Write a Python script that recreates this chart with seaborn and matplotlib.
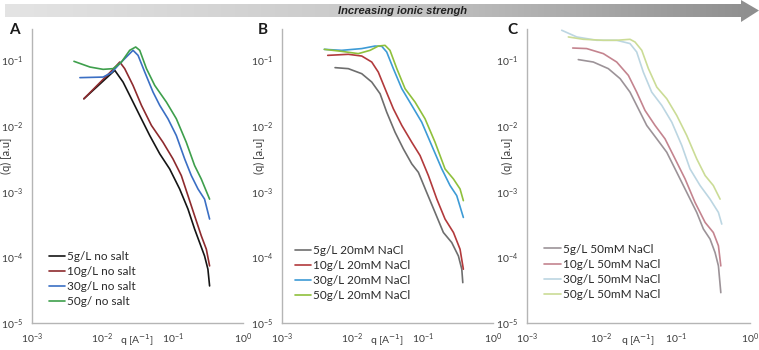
import numpy as np
import pandas as pd
import seaborn as sns
import matplotlib.pyplot as plt
from matplotlib.colors import LinearSegmentedColormap
from matplotlib.patches import Polygon

sns.set_style("white")
plt.rcParams['font.family'] = ['Lato', 'DejaVu Sans']
plt.rcParams['xtick.direction'] = 'in'
plt.rcParams['ytick.direction'] = 'in'

# ---- panel A : no salt
qA_5 = [0.00547, 0.01503, 0.0197, 0.0259, 0.0340, 0.0472, 0.0655, 0.0906, 0.1256, 0.165, 0.205, 0.2415, 0.284, 0.317, 0.335]
IA_5 = [0.0260, 0.0704, 0.0467, 0.0260, 0.01445, 0.00716, 0.00377, 0.00222, 0.00110, 0.000544, 0.000270, 0.000168, 0.000105, 6.6e-5, 3.67e-5]
qA_10 = [0.00547, 0.01422, 0.0177, 0.0208, 0.0273, 0.0360, 0.0499, 0.0728, 0.1009, 0.1327, 0.165, 0.205, 0.255, 0.301, 0.335]
IA_10 = [0.0260, 0.0729, 0.0942, 0.0747, 0.0415, 0.0206, 0.0102, 0.00566, 0.00316, 0.00176, 0.00087, 0.000430, 0.000213, 0.000133, 7.41e-5]
qA_30 = [0.00480, 0.01026, 0.01349, 0.0177, 0.0245, 0.0273, 0.0322, 0.0401, 0.0526, 0.0655, 0.0857, 0.1127, 0.148, 0.184, 0.229, 0.284, 0.335]
IA_30 = [0.0545, 0.0556, 0.0649, 0.0891, 0.1265, 0.1422, 0.1191, 0.0662, 0.0328, 0.0206, 0.0129, 0.00716, 0.00316, 0.00176, 0.00110, 0.00077, 0.000383]
qA_50 = [0.00395, 0.00666, 0.01026, 0.01422, 0.0187, 0.0245, 0.0298, 0.0340, 0.0424, 0.0556, 0.0815, 0.1127, 0.156, 0.205, 0.255, 0.335]
IA_50 = [0.0966, 0.0791, 0.0729, 0.0747, 0.0942, 0.1422, 0.1596, 0.1422, 0.0747, 0.0415, 0.0231, 0.0129, 0.00566, 0.00250, 0.00156, 0.00077]

# ---- panel B : 20mM NaCl
qB_5 = [0.00568, 0.00877, 0.01361, 0.01888, 0.0248, 0.0308, 0.0405, 0.0531, 0.0700, 0.0869, 0.114, 0.150, 0.197, 0.259, 0.322, 0.360, 0.372]
IB_5 = [0.0774, 0.0747, 0.0626, 0.0467, 0.0310, 0.01626, 0.00804, 0.00449, 0.00265, 0.00197, 0.000975, 0.000483, 0.000239, 0.000168, 0.000105, 6.6e-5, 4.12e-5]
qB_10 = [0.00447, 0.00877, 0.01361, 0.01888, 0.0234, 0.0292, 0.0383, 0.0505, 0.0700, 0.0918, 0.1205, 0.159, 0.208, 0.274, 0.340, 0.379]
IB_10 = [0.119, 0.1235, 0.1163, 0.0942, 0.0662, 0.0370, 0.0183, 0.0102, 0.00566, 0.00355, 0.00176, 0.00077, 0.000383, 0.000239, 0.000133, 6.6e-5]
qB_30 = [0.00400, 0.00706, 0.01361, 0.0210, 0.0262, 0.0308, 0.0383, 0.0505, 0.0700, 0.0970, 0.1346, 0.187, 0.245, 0.305, 0.379]
IB_30 = [0.147, 0.142, 0.151, 0.165, 0.1636, 0.134, 0.0747, 0.0370, 0.0206, 0.01143, 0.00504, 0.00222, 0.00124, 0.00087, 0.000405]
qB_50 = [0.00400, 0.00706, 0.01216, 0.01787, 0.0234, 0.0292, 0.0343, 0.0429, 0.0562, 0.0780, 0.108, 0.150, 0.208, 0.274, 0.340, 0.379]
IB_50 = [0.147, 0.137, 0.1265, 0.142, 0.165, 0.169, 0.142, 0.0747, 0.0370, 0.0231, 0.0129, 0.00566, 0.00222, 0.00156, 0.00110, 0.00073]

# ---- panel C : 50mM NaCl
qC_5 = [0.00490, 0.00780, 0.01242, 0.0179, 0.0243, 0.0315, 0.0408, 0.0557, 0.0759, 0.1035, 0.141, 0.192, 0.236, 0.290, 0.339, 0.376, 0.405]
IC_5 = [0.1026, 0.0942, 0.0747, 0.0526, 0.0328, 0.0183, 0.0102, 0.00638, 0.00398, 0.00197, 0.000975, 0.000483, 0.000270, 0.000190, 0.000118, 7.41e-5, 2.9e-5]
qC_10 = [0.00412, 0.00635, 0.01064, 0.0161, 0.0231, 0.0299, 0.0387, 0.0528, 0.0719, 0.0982, 0.134, 0.182, 0.249, 0.321, 0.376, 0.405]
IC_10 = [0.154, 0.151, 0.1265, 0.0942, 0.0590, 0.0328, 0.01725, 0.0102, 0.00638, 0.00316, 0.00156, 0.000687, 0.000340, 0.000239, 0.000150, 7.41e-5]
qC_30 = [0.00293, 0.00467, 0.00867, 0.0161, 0.0243, 0.0299, 0.0367, 0.0476, 0.0650, 0.0887, 0.121, 0.156, 0.213, 0.290, 0.376, 0.417]
IC_30 = [0.287, 0.227, 0.202, 0.202, 0.180, 0.134, 0.0662, 0.0328, 0.0206, 0.01143, 0.00504, 0.00222, 0.00124, 0.00077, 0.000483, 0.000321]
qC_50 = [0.00360, 0.00573, 0.01064, 0.0161, 0.0243, 0.0284, 0.0350, 0.0430, 0.0557, 0.0759, 0.1035, 0.141, 0.192, 0.249, 0.321, 0.396]
IC_50 = [0.227, 0.209, 0.202, 0.202, 0.209, 0.190, 0.142, 0.0747, 0.0391, 0.0260, 0.01445, 0.00716, 0.00316, 0.00176, 0.00124, 0.00077]

labels_A = ["5g/L no salt", "10g/L no salt", "30g/L no salt", "50g/ no salt"]
labels_B = ["5g/L 20mM NaCl", "10g/L 20mM NaCl", "30g/L 20mM NaCl", "50g/L 20mM NaCl"]
labels_C = ["5g/L 50mM NaCl", "10g/L 50mM NaCl", "30g/L 50mM NaCl", "50g/L 50mM NaCl"]

colors_A = ["#151515", "#8e2b2e", "#3b6fc4", "#3e9f4c"]
colors_B = ["#6e6e6e", "#b23a3c", "#3d9bd6", "#8fc03c"]
colors_C = ["#9c9398", "#c4848f", "#bcd6e2", "#cbdc96"]

panels = [
    ("A", [(qA_5, IA_5), (qA_10, IA_10), (qA_30, IA_30), (qA_50, IA_50)], labels_A, colors_A),
    ("B", [(qB_5, IB_5), (qB_10, IB_10), (qB_30, IB_30), (qB_50, IB_50)], labels_B, colors_B),
    ("C", [(qC_5, IC_5), (qC_10, IC_10), (qC_30, IC_30), (qC_50, IC_50)], labels_C, colors_C),
]

W, H = 759, 350
fig = plt.figure(figsize=(W / 100, H / 100), dpi=100)

# axes boxes in pixels: left, right
boxes = [(32, 243), (282, 493), (527, 750)]
top_px, bot_px = 29, 323
ylab_x = [-0.095, -0.08, -0.063]
leg_anchor = [(0.08, 0.245), (0.06, 0.265), (0.078, 0.27)]

for (name, series, labs, cols), (l, r), ylx, anc in zip(panels, boxes, ylab_x, leg_anchor):
    ax = fig.add_axes([l / W, (H - bot_px) / H, (r - l) / W, (bot_px - top_px) / H])
    for (q, I), lab, c in zip(series, labs, cols):
        df = pd.DataFrame({"q": q, "I": I})
        sns.lineplot(data=df, x="q", y="I", ax=ax, color=c, lw=1.2, label=lab,
                     sort=False, estimator=None)
    ax.set_xscale("log")
    ax.set_yscale("log")
    ax.set_xlim(1e-3, 1)
    ax.set_ylim(1e-5, 0.3)
    for s in ["top", "right"]:
        ax.spines[s].set_visible(False)
    for s in ["left", "bottom"]:
        ax.spines[s].set_color("#b5b5b5")
        ax.spines[s].set_linewidth(1.0)
    ax.tick_params(which="major", length=3, color="#b5b5b5", labelsize=7.5,
                   labelcolor="#3a3a3a")
    ax.tick_params(which="minor", length=2, color="#b5b5b5")
    ax.tick_params(axis="y", pad=6.5)
    ax.tick_params(axis="x", pad=6)
    ax.set_xlabel("q [A$^{-1}$]", fontsize=7.5, color="#3a3a3a", labelpad=-10)
    ax.set_ylabel("(q) [a.u]", fontsize=8, color="#3a3a3a")
    ax.yaxis.set_label_coords(ylx, 0.57)
    leg = ax.legend(loc="upper left", bbox_to_anchor=anc, frameon=False,
                    fontsize=8.5, handlelength=1.4, handletextpad=0.15,
                    labelspacing=0.35, borderpad=0, borderaxespad=0)
    for t in leg.get_texts():
        t.set_color("#2a2a2a")

# ---- banner arrow and panel letters (pixel coordinates overlay)
ov = fig.add_axes([0, 0, 1, 1])
ov.set_xlim(0, W)
ov.set_ylim(H, 0)
ov.axis("off")
ov.patch.set_visible(False)

arrow = Polygon([(5, 4), (741, 4), (741, 0), (759, 10.5), (741, 22), (741, 17), (5, 17)],
                closed=True, facecolor="none", edgecolor="none")
ov.add_patch(arrow)
cmap = LinearSegmentedColormap.from_list("band", ["#e4e4e4", "#c8c8c8", "#8e8e8e"])
grad = np.linspace(0, 1, 256).reshape(1, -1)
im = ov.imshow(grad, cmap=cmap, extent=(5, 759, 22, 0), aspect="auto")
im.set_clip_path(arrow)
ov.set_xlim(0, W)
ov.set_ylim(H, 0)
ov.text(403, 10.5, "Increasing ionic strengh", ha="center", va="center",
        fontsize=8, fontweight="bold", fontstyle="italic", color="#222222",
        family=["Liberation Sans", "DejaVu Sans"])

for letter, x in zip(["A", "B", "C"], [14, 263, 512]):
    ov.text(x, 30, letter, ha="center", va="center", fontsize=11,
            fontweight="bold", color="#1a1a1a")

fig.savefig("out.png", dpi=100)
